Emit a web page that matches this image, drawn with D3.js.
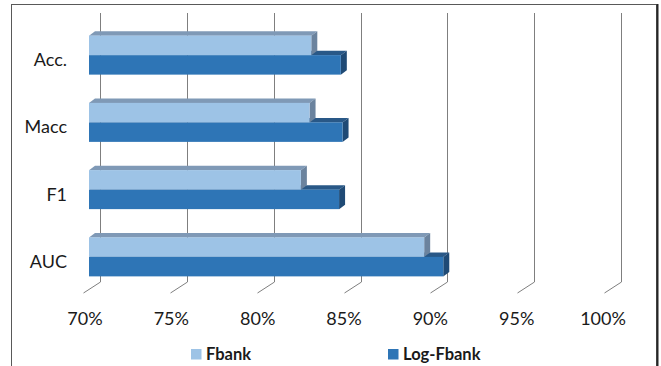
<!DOCTYPE html>
<html>
<head>
<meta charset="utf-8">
<script src="https://cdn.jsdelivr.net/npm/d3@7/dist/d3.min.js"></script>
<style>
  html, body { margin: 0; padding: 0; background: #fff; }
  svg { display: block; font-family: Lato, "Open Sans", sans-serif; }
</style>
</head>
<body>
<svg id="chart" width="661" height="366"></svg>
<script>
// Metrics and scores (fractions) for each feature type
const categories = ["Acc.", "Macc", "F1", "AUC"];
const seriesNames = ["Fbank", "Log-Fbank"];
const fbank = [0.828, 0.827, 0.822, 0.893];
const logFbank = [0.845, 0.846, 0.844, 0.904];
const ticks = [0.70, 0.75, 0.80, 0.85, 0.90, 0.95, 1.00];
const tickLabels = ["70%", "75%", "80%", "85%", "90%", "95%", "100%"];

const colors = {
  "Fbank": { front: "#9dc3e6", top: "#7f99b6", side: "#6b839e" },
  "Log-Fbank": { front: "#2e75b6", top: "#295887", side: "#1f4a75" }
};

const svg = d3.select("#chart");

// Oblique 3D geometry: back wall, floor depth and bar depth
const floorDepth = { dx: -17, dy: 11 };
const barOffset = { dx: -11 };          // bar front face relative to back wall
const barDepth = { dx: 6, dy: -4.5 };   // bar thickness going into the chart

const xBack = d3.scaleLinear().domain([0.70, 1.00]).range([100, 621]);
const xFront = v => xBack(v) + barOffset.dx;
const xLabel = d3.scaleLinear().domain([0.70, 1.00]).range([85, 603]);

const yBand = d3.scaleBand().domain(categories).range([21.5, 290.5]).paddingInner(0).paddingOuter(0);
const ySeries = d3.scaleBand().domain(seriesNames).range([0, 39]);

const wallTop = 13, wallBottom = 282;

// Chart frame
svg.append("rect")
  .attr("x", 11.5).attr("y", 4.5).attr("width", 645).attr("height", 370)
  .attr("fill", "none").attr("stroke", "#595959").attr("stroke-width", 1);
svg.append("line")
  .attr("x1", 657.5).attr("x2", 657.5).attr("y1", 4).attr("y2", 366)
  .attr("stroke", "#262626").attr("stroke-width", 2);

// Back-wall gridlines with their floor projections
const grid = svg.append("g").attr("stroke", "#7f7f7f").attr("stroke-width", 1).attr("fill", "none");
ticks.forEach(t => {
  const x = Math.round(xBack(t)) + 0.5;
  grid.append("path")
    .attr("d", `M${x},${wallTop}V${wallBottom}l${floorDepth.dx},${floorDepth.dy}`);
});

// Tick labels along the front edge of the floor
svg.append("g").selectAll("text").data(ticks).join("text")
  .attr("x", d => xLabel(d))
  .attr("y", 325)
  .attr("text-anchor", "middle")
  .attr("font-size", 18)
  .attr("fill", "#1a1a1a")
  .text((d, i) => tickLabels[i]);

// Category labels
svg.append("g").selectAll("text").data(categories).join("text")
  .attr("x", 67)
  .attr("y", d => yBand(d) + yBand.bandwidth() / 2 + 11)
  .attr("text-anchor", "end")
  .attr("font-size", 18)
  .attr("fill", "#1a1a1a")
  .text(d => d);

// 3D bars: draw Log-Fbank first so Fbank sits in front of its top face
const bars = svg.append("g");
const drawOrder = ["Log-Fbank", "Fbank"];
categories.forEach((cat, i) => {
  drawOrder.forEach(name => {
    const v = name === "Fbank" ? fbank[i] : logFbank[i];
    const c = colors[name];
    const x0 = xFront(0.70), x1 = xFront(v);
    const y0 = yBand(cat) + (yBand.bandwidth() - 39) / 2 + ySeries(name);
    const y1 = y0 + ySeries.bandwidth();
    const g = bars.append("g");
    // top face
    g.append("path")
      .attr("d", `M${x0},${y0}L${x0 + barDepth.dx},${y0 + barDepth.dy}L${x1 + barDepth.dx},${y0 + barDepth.dy}L${x1},${y0}Z`)
      .attr("fill", c.top);
    // end face
    g.append("path")
      .attr("d", `M${x1},${y0}L${x1 + barDepth.dx},${y0 + barDepth.dy}L${x1 + barDepth.dx},${y1 + barDepth.dy}L${x1},${y1}Z`)
      .attr("fill", c.side);
    // front face
    g.append("rect")
      .attr("x", x0).attr("y", y0)
      .attr("width", x1 - x0).attr("height", y1 - y0)
      .attr("fill", c.front);
  });
});

// Legend
const legendPos = { "Fbank": 191, "Log-Fbank": 388 };
const legend = svg.append("g");
seriesNames.forEach(name => {
  legend.append("rect")
    .attr("x", legendPos[name]).attr("y", 349)
    .attr("width", 10.5).attr("height", 10.5)
    .attr("fill", colors[name].front);
  legend.append("text")
    .attr("x", legendPos[name] + 15).attr("y", 359.5)
    .attr("font-size", 16.5).attr("font-weight", "bold")
    .attr("fill", "#1a1a1a")
    .text(name);
});
</script>
</body>
</html>
